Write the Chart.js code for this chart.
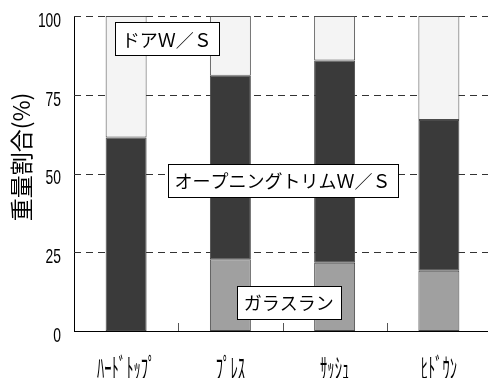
<!DOCTYPE html>
<html>
<head>
<meta charset="utf-8">
<script src="https://cdn.jsdelivr.net/npm/chart.js@4/dist/chart.umd.min.js"></script>
<style>
  html, body { margin: 0; padding: 0; background: #fff; overflow: hidden; }
  #wrap { width: 492px; height: 378px; }
</style>
</head>
<body>
<div id="wrap"><canvas id="c" width="492" height="378"></canvas></div>
<script>
// Weight share (%) of each seal part, by door type
const categories = ['ﾊｰﾄﾞﾄｯﾌﾟ', 'ﾌﾟﾚｽ', 'ｻｯｼｭ', 'ﾋﾄﾞｳﾝ'];
const glassRun    = [0, 22.8, 21.7, 19.1];
const openingTrim = [61.4, 58.2, 64.2, 47.9];
const doorWS      = [38.6, 19.0, 14.1, 33.0];
const yTicks      = [0, 25, 50, 75, 100];

// Callout labels: text plus anchor in (category index, percent)
const noteText = ['ドアＷ／Ｓ', 'オープニングトリムＷ／Ｓ', 'ガラスラン'];
const noteX    = [0.39, 1.5, 1.56];
const noteY    = [92.7, 47.8, 9.2];

const JP = '"Noto Sans CJK JP", "Noto Sans", sans-serif';

const overlay = {
  id: 'overlay',
  beforeDatasetsDraw(chart) {
    const { ctx, chartArea: a, scales: { y } } = chart;
    ctx.save();
    ctx.strokeStyle = '#333';
    ctx.lineWidth = 1;
    ctx.setLineDash([7, 5]);
    y.ticks.forEach(t => {
      if (t.value === 0) return;
      const py = Math.round(y.getPixelForValue(t.value)) + 0.5;
      ctx.beginPath();
      ctx.moveTo(a.left, py);
      ctx.lineTo(a.right, py);
      ctx.stroke();
    });
    ctx.restore();
  },
  afterDraw(chart) {
    const { ctx, chartArea: a, scales: { x, y } } = chart;
    ctx.save();

    // small inward tick marks between categories
    ctx.strokeStyle = '#555';
    ctx.lineWidth = 1;
    for (let i = 0; i < categories.length - 1; i++) {
      const px = Math.round(x.getPixelForValue(i + 0.5)) + 0.5;
      ctx.beginPath();
      ctx.moveTo(px, a.bottom);
      ctx.lineTo(px, a.bottom - 8);
      ctx.stroke();
    }

    // condensed y tick labels
    ctx.fillStyle = '#000';
    ctx.font = '21px "Liberation Sans", Arial, sans-serif';
    ctx.textAlign = 'right';
    ctx.textBaseline = 'middle';
    y.ticks.forEach(t => {
      ctx.save();
      ctx.translate(a.left - 13, y.getPixelForValue(t.value) + 5);
      ctx.scale(0.66, 1);
      ctx.fillText(String(t.value), 0, 0);
      ctx.restore();
    });

    // condensed category labels
    ctx.font = '28px ' + JP;
    ctx.textAlign = 'center';
    ctx.textBaseline = 'middle';
    categories.forEach((c, i) => {
      ctx.save();
      ctx.translate(x.getPixelForValue(i), 368);
      ctx.scale(0.52, 1);
      ctx.fillText(c, 0, 0);
      ctx.restore();
    });

    // y axis title
    ctx.save();
    ctx.translate(21, 157);
    ctx.rotate(-Math.PI / 2);
    ctx.font = '23px ' + JP;
    ctx.textAlign = 'center';
    ctx.textBaseline = 'middle';
    ctx.fillText('重量割合(%)', 0, 0);
    ctx.restore();

    // boxed callouts
    ctx.font = '18px ' + JP;
    ctx.textAlign = 'center';
    ctx.textBaseline = 'middle';
    noteText.forEach((txt, i) => {
      const cx = x.getPixelForValue(noteX[i]);
      const cy = y.getPixelForValue(noteY[i]);
      const w = Math.round(ctx.measureText(txt).width + 14);
      const h = 33;
      const bx = Math.round(cx - w / 2) + 0.5;
      const by = Math.round(cy - h / 2) + 0.5;
      ctx.fillStyle = '#fff';
      ctx.fillRect(bx, by, w, h);
      ctx.strokeStyle = '#000';
      ctx.lineWidth = 1;
      ctx.strokeRect(bx, by, w, h);
      ctx.fillStyle = '#000';
      ctx.fillText(txt, cx, cy + 1);
    });

    ctx.restore();
  }
};

const barStyle = {
  borderWidth: 1,
  borderColor: '#4a4a4a',
  borderSkipped: false,
  barPercentage: 0.393,
  categoryPercentage: 1
};

new Chart(document.getElementById('c'), {
  type: 'bar',
  data: {
    labels: categories,
    datasets: [
      Object.assign({ label: 'ガラスラン', data: glassRun, backgroundColor: '#a0a0a0' }, barStyle),
      Object.assign({ label: 'オープニングトリムＷ／Ｓ', data: openingTrim, backgroundColor: '#3a3a3a' }, barStyle),
      Object.assign({ label: 'ドアＷ／Ｓ', data: doorWS, backgroundColor: '#f4f4f4' }, barStyle)
    ]
  },
  options: {
    responsive: false,
    animation: false,
    layout: { padding: { left: 0, top: 16, right: 1, bottom: 0 } },
    plugins: { legend: { display: false }, tooltip: { enabled: false } },
    scales: {
      x: {
        stacked: true,
        grid: { display: false, drawTicks: false },
        border: { display: true, color: '#000', width: 1 },
        ticks: { display: false },
        afterFit: s => { s.height = 47; }
      },
      y: {
        stacked: true,
        min: 0,
        max: 100,
        afterBuildTicks: s => { s.ticks = yTicks.map(v => ({ value: v })); },
        grid: { display: false, drawTicks: false },
        border: { display: true, color: '#000', width: 1 },
        ticks: { display: false },
        afterFit: s => { s.width = 74; }
      }
    }
  },
  plugins: [overlay]
});
</script>
</body>
</html>
